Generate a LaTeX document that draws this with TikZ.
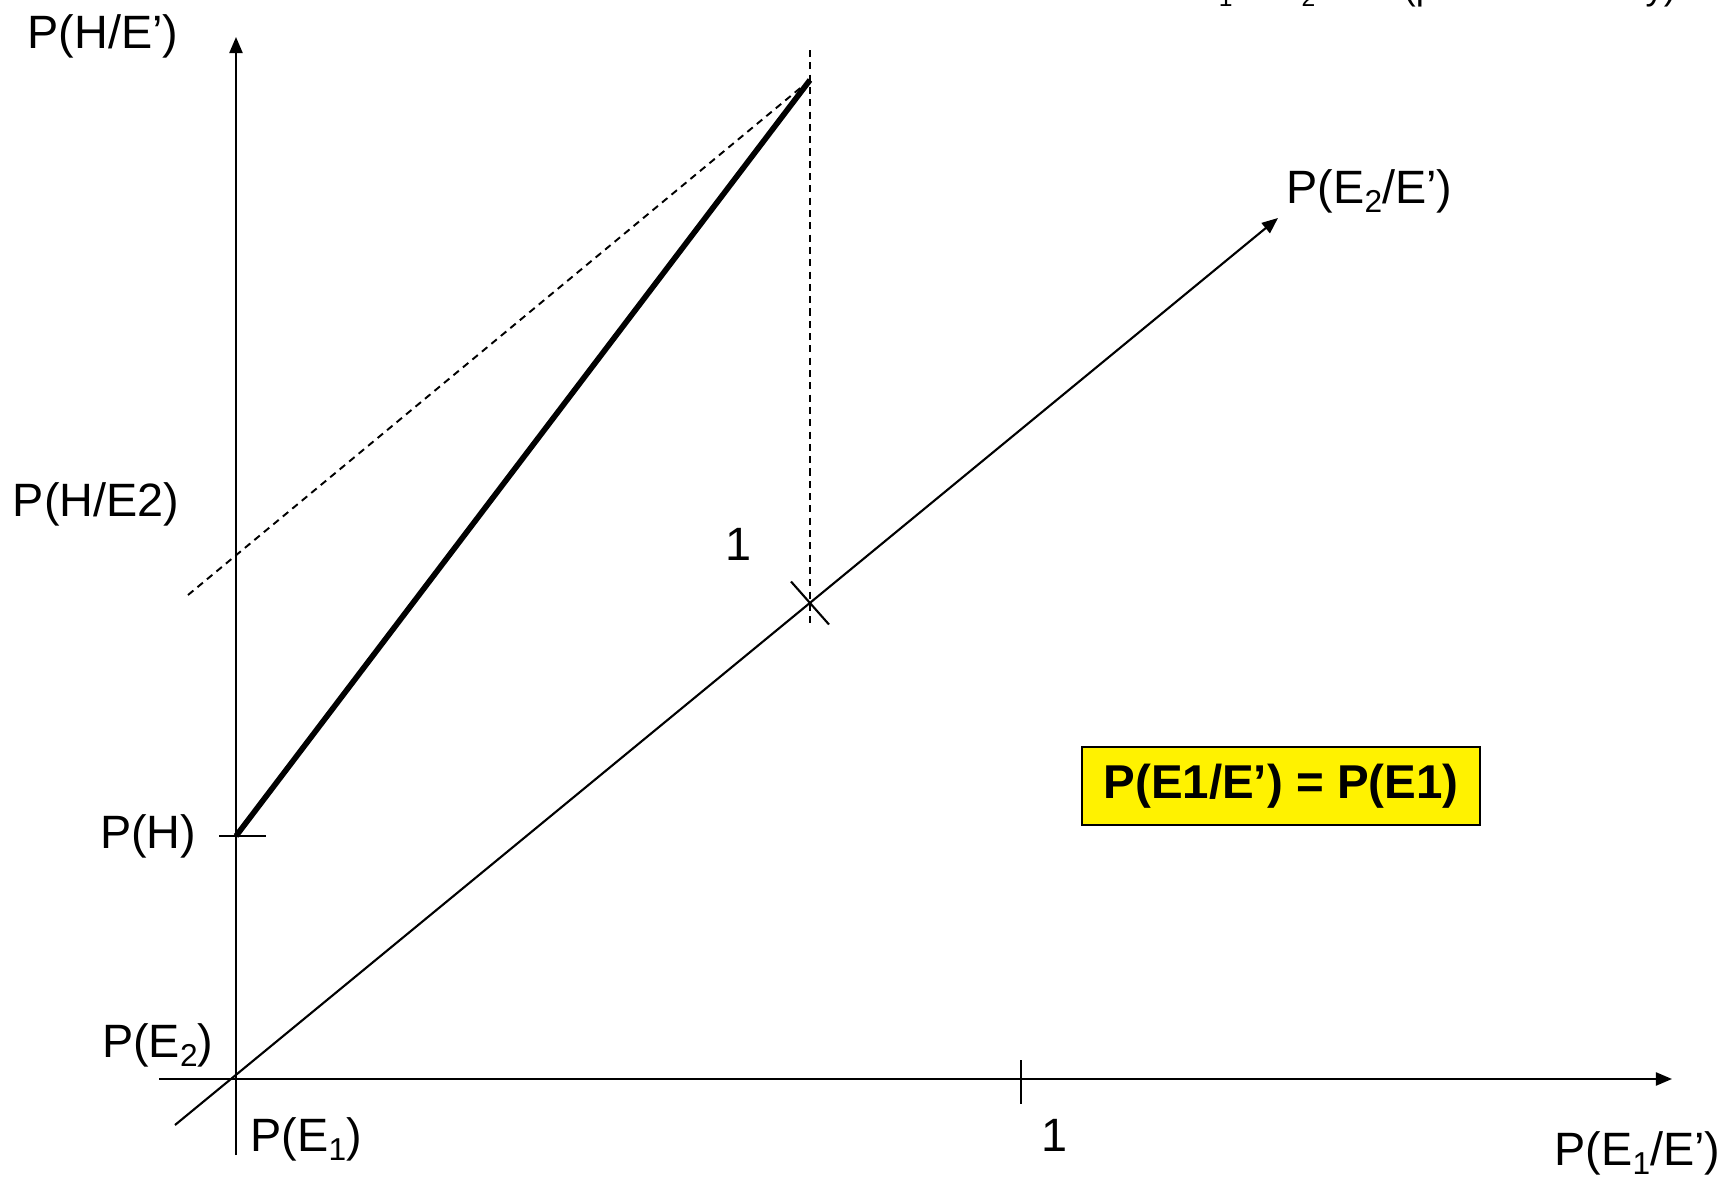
\documentclass[tikz,border=0pt]{standalone}
\usepackage{fontspec}
\setmainfont{Liberation Sans}
\usetikzlibrary{arrows.meta}
\newcommand\sbs[1]{\raisebox{-2.8pt}{\fontsize{9}{10}\selectfont #1}}
\newcommand\sbt[1]{\raisebox{-2.2pt}{\fontsize{7}{8}\selectfont #1}}
\begin{document}
\begin{tikzpicture}[x=0.01cm,y=-0.01cm,
  lbl/.style={inner sep=0pt,font=\fontsize{13.3}{15}\selectfont},
  toplbl/.style={inner sep=0pt,font=\fontsize{10.4}{12}\selectfont},
  thin/.style={line width=0.6pt},
  axis/.style={line width=0.6pt,-{Triangle[length=0.16cm,width=0.13cm]}},
  dsh/.style={line width=0.55pt,dash pattern=on 2pt off 1.5pt},
  thick line/.style={line width=1.6pt},
  hbox/.style={draw,fill=yellow,line width=0.6pt,minimum width=3.98cm,minimum height=0.78cm,inner sep=0pt,font=\fontsize{13.5}{16}\selectfont\bfseries}]
\useasboundingbox (0,0) rectangle (1735,1181);
% coordinates
\coordinate (ytop) at (236,37);
\coordinate (ybot) at (236,1155);
\coordinate (xl) at (159,1079);
\coordinate (xr) at (1672,1079);
\coordinate (dl) at (175,1125);
\coordinate (dr) at (1278,218);
\coordinate (one) at (810,603);
\coordinate (vt) at (810,50);
\coordinate (vb) at (810,626);
\coordinate (PH) at (236,836);
\coordinate (T) at (810,80);
\coordinate (dsl) at (188,595);
\coordinate (phl) at (219,836);
\coordinate (phr) at (266,836);
\coordinate (xtt) at (1021,1060);
\coordinate (xtb) at (1021,1104);
\coordinate (ca) at (791,581.5);
\coordinate (cb) at (829,624.5);
% axes
\draw[axis] (ybot) -- (ytop);
\draw[axis] (xl) -- (xr);
\draw[axis] (dl) -- (dr);
% ticks
\draw[thin] (phl) -- (phr);
\draw[thin] (xtt) -- (xtb);
\draw[thin] (ca) -- (cb);
% dashed lines
\draw[dsh] (vt) -- (vb);
\draw[dsh] (dsl) -- (T);
% thick line
\draw[thick line] (PH) -- (T);
% labels
\node[lbl,anchor=base east] (lHE) at (179,48) {P(H/E’)};
\node[lbl,anchor=base east] (lHE2) at (180,516) {P(H/E2)};
\node[lbl,anchor=base east] (lH) at (197,848) {P(H)};
\node[lbl,anchor=base east] (lE2) at (214,1057) {P(E\sbs{2})};
\node[lbl,anchor=base west] (lE1) at (250,1151) {P(E\sbs{1})};
\node[lbl,anchor=base] (l1x) at (1054,1151) {1};
\node[lbl,anchor=base east] (lE1E) at (1721,1165) {P(E\sbs{1}/E’)};
\node[lbl,anchor=base west] (lE2E) at (1286,203) {P(E\sbs{2}/E’)};
\node[lbl,anchor=base] (l1d) at (739,560) {1};
\node[toplbl,anchor=base east] (ltopa) at (1316,-1) {E\sbt{1} \& E\sbt{2}};
\node[toplbl,anchor=base west] (ltopb) at (1403,-1) {(probabilistically)};
\node[hbox] (box) at (1281,786) {P(E1/E’) = P(E1)};
\end{tikzpicture}
\end{document}
